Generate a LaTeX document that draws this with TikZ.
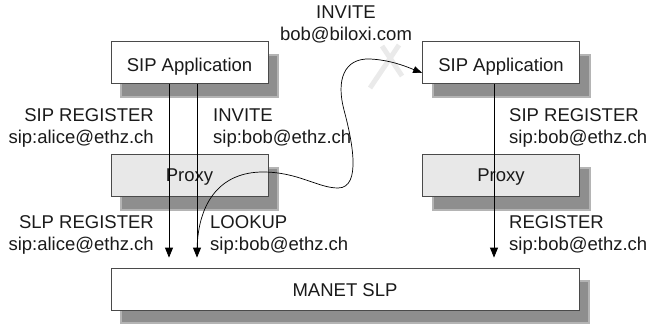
\documentclass[tikz,border=0pt]{standalone}
\usepackage{fontspec}
\setmainfont{Liberation Sans}
\usetikzlibrary{shadows,arrows.meta}
\definecolor{ink}{HTML}{1A1A1A}
\definecolor{edge}{HTML}{4A4A4A}
\definecolor{shade}{HTML}{8E8E8E}
\definecolor{shadeedge}{HTML}{B4B4B4}
\definecolor{proxyfill}{HTML}{E8E8E8}
\definecolor{crossgray}{HTML}{EAEAEA}
\begin{document}
\begin{tikzpicture}[x=1pt,y=-1pt,
  font=\fontsize{18.5}{22}\selectfont, text=ink,
  box/.style={draw=edge, line width=0.8pt, fill=white, minimum height=42pt,
    inner sep=0pt, text height=17pt, text depth=0pt,
    general shadow={fill=shade, draw=shadeedge, line width=2pt,
      shadow xshift=10pt, shadow yshift=-13pt}},
  appbox/.style={box, minimum width=157pt},
  proxybox/.style={box, fill=proxyfill, minimum width=157pt, text height=11pt},
  slpbox/.style={box, minimum width=468pt, text height=14pt},
  arr/.style={draw=black, line width=0.8pt, -{Triangle[length=10pt,width=8pt]}},
  lblR/.style={align=right, anchor=east, inner sep=0pt},
  lblL/.style={align=left, anchor=west, inner sep=0pt},
]
\useasboundingbox (0,0) rectangle (650,324);

% boxes
\node[appbox]   (appL)   at (189.5,62.5)  {SIP Application};
\node[proxybox] (proxyL) at (189.5,175.5) {Proxy};
\node[appbox]   (appR)   at (501,62.5)    {SIP Application};
\node[proxybox] (proxyR) at (501,175.5)   {Proxy};
\node[slpbox]   (slp)    at (345,289)     {MANET SLP};

% message flows down to the SLP layer
\draw[arr, shorten >=10pt] ([xshift=-20.5pt]appL.south) -- ([xshift=-176pt]slp.north);
\draw[arr, shorten >=10pt] ([xshift=7.5pt]appL.south) -- ([xshift=-148pt]slp.north);
\draw[arr, shorten >=10pt] ([xshift=-7pt]appR.south) -- ([xshift=149pt]slp.north);

% failed direct INVITE
\draw[crossgray, line width=5pt] (370,88) -- (399,45);
\draw[crossgray, line width=5pt] (382,46) -- (402,76);
\coordinate (inv0) at (197,250);
\draw[arr, line width=0.7pt, -{Triangle[length=9pt,width=7pt]}]
  (inv0) .. controls (198,200) and (222,172) .. (263,172)
  .. controls (298,172) and (318,188) .. (338,188)
  .. controls (362,188) and (352,140) .. (344,110)
  .. controls (336,80) and (344,58) .. (370,59)
  .. controls (390,60) and (405,66) .. ([yshift=-10.5pt]appR.west);

% labels
\node[lblR] (l1) at (154,128) {SIP REGISTER\\sip:alice@ethz.ch};
\node[lblL] (l2) at (213,128) {INVITE\\sip:bob@ethz.ch};
\node[lblL] (l3) at (509,128) {SIP REGISTER\\sip:bob@ethz.ch};
\node[lblR] (l4) at (154,235) {SLP REGISTER\\sip:alice@ethz.ch};
\node[lblL] (l5) at (210,235) {LOOKUP\\sip:bob@ethz.ch};
\node[lblL] (l6) at (509,235) {REGISTER\\sip:bob@ethz.ch};
\node[align=center, inner sep=0pt] (l7) at (346,24) {INVITE\\bob@biloxi.com};
\end{tikzpicture}
\end{document}
